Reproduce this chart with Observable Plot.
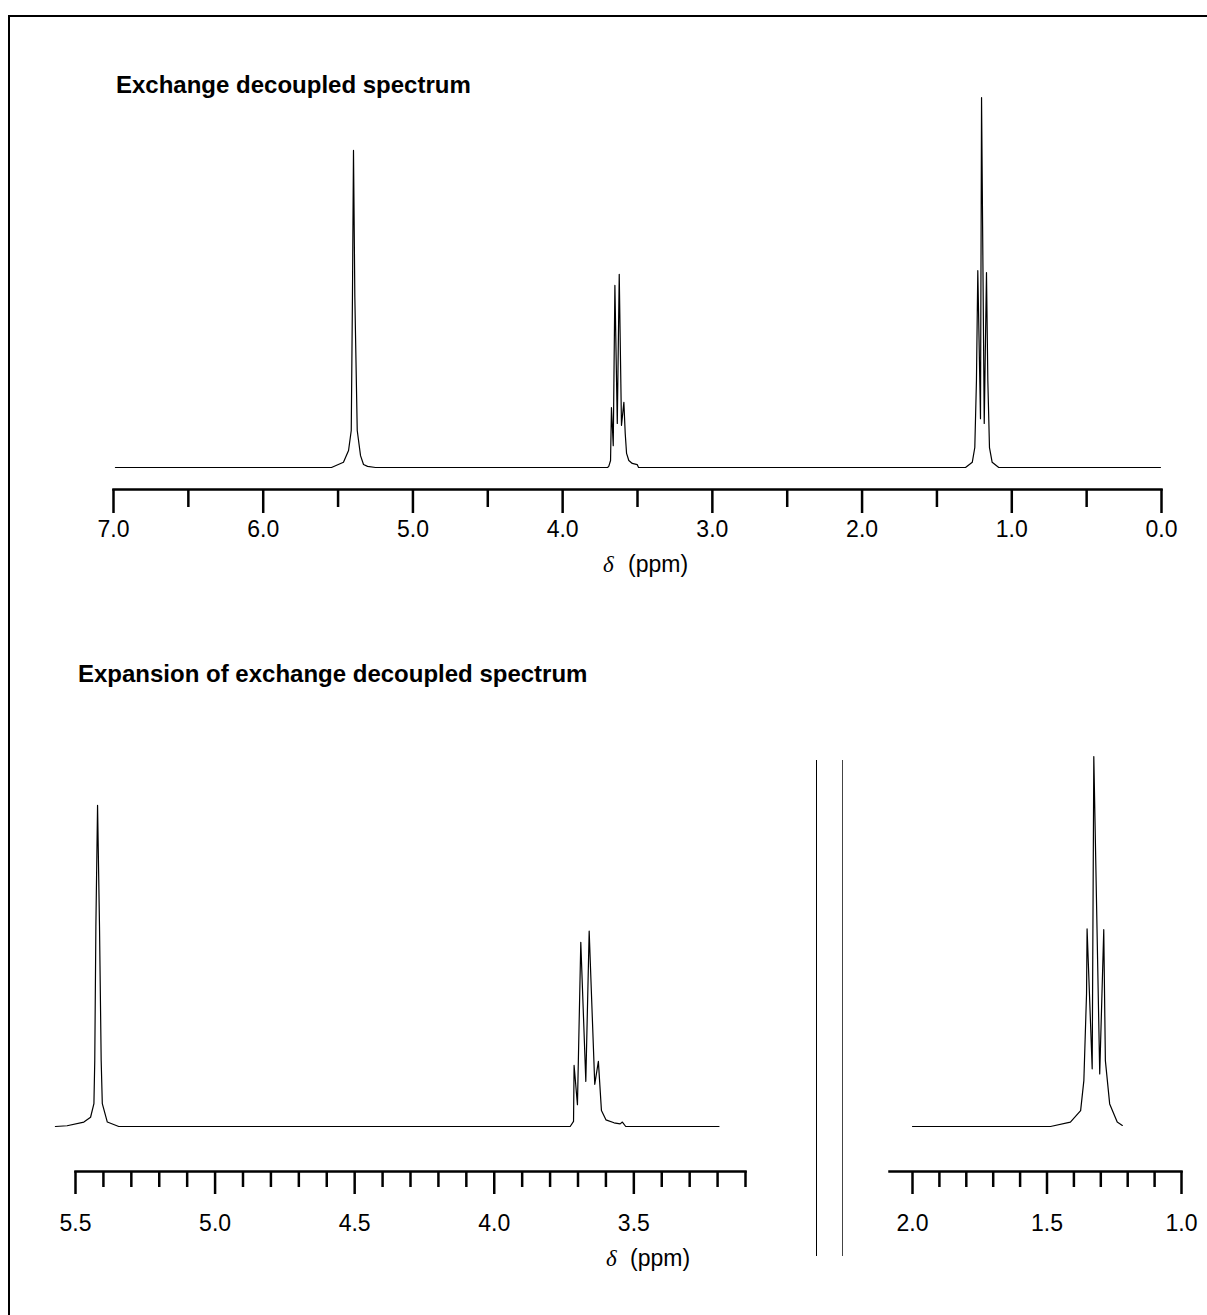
<!DOCTYPE html>
<html>
<head>
<meta charset="utf-8">
<script src="https://cdn.jsdelivr.net/npm/d3@7"></script>
<script src="https://cdn.jsdelivr.net/npm/@observablehq/plot@0.6"></script>
<style>
  body { margin: 0; background: #fff; }
  #page { position: relative; width: 1207px; height: 1315px; overflow: hidden; background: #fff;
          font-family: "Liberation Sans", Arial, sans-serif; color: #000; }
  .panel { position: absolute; }
  .title { position: absolute; font-weight: bold; font-size: 24px; line-height: 24px; white-space: nowrap; }
  .axlab { position: absolute; font-size: 23px; line-height: 23px; white-space: nowrap; }
  .delta { font-family: "Liberation Serif", "DejaVu Serif", serif; font-style: italic; }
  .brk { position: absolute; top: 760px; height: 496px; width: 1.3px; }
</style>
</head>
<body>
<div id="page">
  <div style="position:absolute;left:8px;top:15px;right:-10px;bottom:-10px;border-left:2px solid #000;border-top:2px solid #000;"></div>
  <div class="title" style="left:116px;top:73px">Exchange decoupled spectrum</div>
  <div class="title" style="left:78px;top:662px">Expansion of exchange decoupled spectrum</div>
  <div id="top" class="panel" style="left:0;top:0"></div>
  <div id="botL" class="panel" style="left:0;top:700px"></div>
  <div id="botR" class="panel" style="left:860px;top:700px"></div>
  <div class="axlab delta" style="left:603px;top:553px">δ</div>
  <div class="axlab" style="left:628px;top:553px">(ppm)</div>
  <div class="axlab delta" style="left:606px;top:1247px">δ</div>
  <div class="axlab" style="left:630px;top:1247px">(ppm)</div>
  <div class="brk" style="left:815.5px;background:#000"></div>
  <div class="brk" style="left:841.5px;background:#444"></div>
</div>
<script>
// ---------- data: full spectrum (chemical shift in ppm, relative intensity) ----------
const fullPpm = [6.987, 5.544, 5.464, 5.430, 5.412, 5.404, 5.397, 5.388, 5.372, 5.350, 5.330, 5.303, 5.250,
  3.700, 3.692, 3.680, 3.674, 3.662, 3.651, 3.635, 3.622, 3.607, 3.591, 3.582, 3.573, 3.558, 3.535, 3.502, 3.493,
  1.309, 1.264, 1.247, 1.236, 1.227, 1.209, 1.202, 1.184, 1.169, 1.160, 1.149, 1.131, 1.087, 0.007];
const fullInt = [0, 0, 1.4, 4.6, 10, 46, 85.7, 46, 10, 3.2, 0.8, 0.3, 0,
  0, 0.3, 1.9, 16.2, 5.9, 49.2, 11.9, 52.2, 11.4, 17.6, 9.2, 3.8, 1.9, 1.1, 0.8, 0,
  0, 1.4, 5.4, 23.5, 53.2, 13.2, 100, 11.9, 52.7, 23.5, 5.4, 1.4, 0, 0];

// ---------- data: expansion, 5.6 - 3.2 ppm ----------
const expAPpm = [5.572, 5.530, 5.470, 5.446, 5.434, 5.431, 5.427, 5.421, 5.414, 5.408, 5.404, 5.386, 5.345,
  3.728, 3.716, 3.714, 3.702, 3.690, 3.672, 3.660, 3.640, 3.627, 3.616, 3.600, 3.571, 3.549, 3.541, 3.529, 3.195];
const expAInt = [0, 0.2, 1.2, 2.5, 6.2, 17.8, 54, 86.8, 54, 17.8, 6.2, 1.2, 0,
  0, 1.4, 16.5, 5.9, 49.8, 12.2, 52.8, 11.4, 17.6, 4.3, 1.8, 1.0, 0.7, 1.2, 0, 0];

// ---------- data: expansion, 2.0 - 1.2 ppm ----------
const expBPpm = [2.000, 1.487, 1.413, 1.375, 1.363, 1.353, 1.351, 1.332, 1.326, 1.304, 1.289, 1.283, 1.267, 1.239, 1.220];
const expBInt = [0, 0, 1.2, 4.3, 12.4, 35.9, 53.4, 15.6, 100, 14.2, 53.2, 17.8, 6.1, 1.2, 0.3];

// ---------- tick values ----------
const fullMajor = [7, 6, 5, 4, 3, 2, 1, 0];
const fullMinor = [6.5, 5.5, 4.5, 3.5, 2.5, 1.5, 0.5];
const expAMajor = [5.5, 5.0, 4.5, 4.0, 3.5];
const expAMinor = [5.4, 5.3, 5.2, 5.1, 4.9, 4.8, 4.7, 4.6, 4.4, 4.3, 4.2, 4.1, 3.9, 3.8, 3.7, 3.6, 3.4, 3.3, 3.2, 3.1];
const expBMajor = [2.0, 1.5, 1.0];
const expBMinor = [1.9, 1.8, 1.7, 1.6, 1.4, 1.3, 1.2, 1.1];

const toRows = (xs, ys) => xs.map((p, i) => ({ppm: p, intensity: ys[i]}));
const fmt = d3.format(".1f");
const baseStyle = {fontFamily: "'Liberation Sans', Arial, sans-serif", fontSize: "23px", color: "#000",
                   background: "transparent", overflow: "visible"};

function panel({width, height, marginLeft, marginRight, marginBottom, x, yRange, major, minor,
                majorSize, minorSize, pad, rows}) {
  return Plot.plot({
    width, height, marginTop: 0, marginLeft, marginRight, marginBottom,
    style: baseStyle,
    x: {...x, type: "linear", label: null},
    y: {domain: [0, 100], range: yRange, axis: null},
    marks: [
      Plot.frame({anchor: "bottom", strokeWidth: 2.5}),
      Plot.axisX(minor, {tickSize: minorSize, tickFormat: () => "", strokeWidth: 2.5, label: null}),
      Plot.axisX(major, {tickSize: majorSize, tickPadding: pad, tickFormat: fmt, strokeWidth: 2.5,
                         fontSize: 23, label: null}),
      Plot.line(rows, {x: "ppm", y: "intensity", stroke: "#000", strokeWidth: 1.2})
    ]
  });
}

document.getElementById("top").append(panel({
  width: 1207, height: 600, marginLeft: 113, marginRight: 46, marginBottom: 111,
  x: {domain: [7, 0]}, yRange: [467, 97],
  major: fullMajor, minor: fullMinor, majorSize: 24, minorSize: 18, pad: 7,
  rows: toRows(fullPpm, fullInt)
}));

document.getElementById("botL").append(panel({
  width: 800, height: 600, marginLeft: 75, marginRight: 55, marginBottom: 129,
  x: {domain: [5.5, 3.1]}, yRange: [426, 56],
  major: expAMajor, minor: expAMinor, majorSize: 23, minorSize: 16, pad: 20,
  rows: toRows(expAPpm, expAInt)
}));

document.getElementById("botR").append(panel({
  width: 347, height: 600, marginLeft: 29, marginRight: 26, marginBottom: 129,
  x: {domain: [2.0, 1.0], range: [52, 321]}, yRange: [426, 56],
  major: expBMajor, minor: expBMinor, majorSize: 23, minorSize: 16, pad: 20,
  rows: toRows(expBPpm, expBInt)
}));
</script>
</body>
</html>
